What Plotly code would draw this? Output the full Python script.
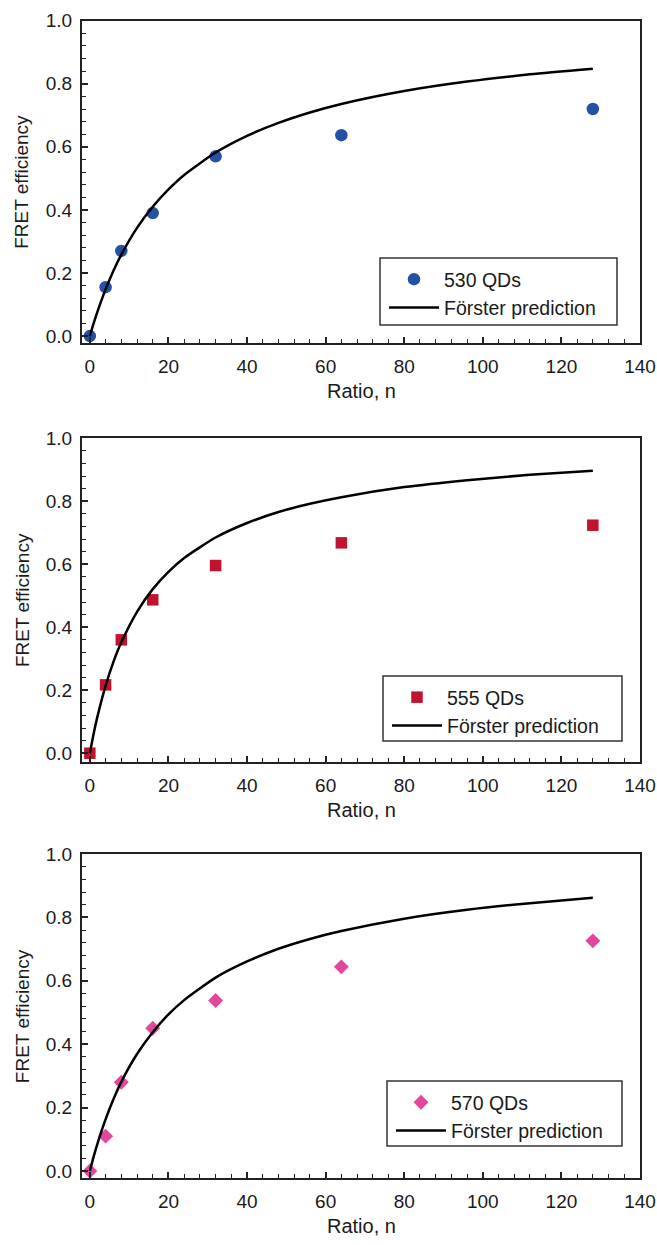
import plotly.graph_objects as go

# ---------------- data ----------------
ratio_n = [0, 4, 8, 16, 32, 64, 128]

eff_530 = [0.0, 0.155, 0.27, 0.39, 0.57, 0.637, 0.72]
eff_555 = [0.0, 0.217, 0.36, 0.487, 0.596, 0.668, 0.724]
eff_570 = [0.0, 0.110, 0.28, 0.45, 0.538, 0.644, 0.726]

curve_n = [0, 1, 2, 4, 6, 8, 12, 16, 20, 24, 32, 40, 48, 56, 64, 80, 96, 112, 128]
forster_530 = [0.0, 0.042, 0.080, 0.148, 0.207, 0.258, 0.343, 0.410, 0.465, 0.511,
               0.582, 0.635, 0.676, 0.709, 0.736, 0.777, 0.807, 0.830, 0.848]
forster_555 = [0.0, 0.064, 0.120, 0.214, 0.290, 0.352, 0.449, 0.521, 0.576, 0.620,
               0.685, 0.731, 0.766, 0.792, 0.813, 0.845, 0.867, 0.884, 0.897]
forster_570 = [0.0, 0.047, 0.089, 0.163, 0.226, 0.281, 0.369, 0.438, 0.494, 0.539,
               0.610, 0.661, 0.701, 0.732, 0.757, 0.796, 0.824, 0.845, 0.862]

series_names = ["530 QDs", "555 QDs", "570 QDs"]
line_name = "Förster prediction"
x_title = "Ratio, n"
y_title = "FRET efficiency"
x_ticks = [0, 20, 40, 60, 80, 100, 120, 140]
y_ticks = [0.0, 0.2, 0.4, 0.6, 0.8, 1.0]
y_tick_labels = ["0.0", "0.2", "0.4", "0.6", "0.8", "1.0"]

# ---------------- layout helpers ----------------
W, H = 657, 1245
FONT = "Liberation Sans, Arial, Helvetica, sans-serif"

def py(px):
    return 1 - px / H

def pxx(px):
    return px / W

panels = [
    dict(top=20.7, bottom=343.0, ymin=-0.022, color="#2451A6", symbol="circle", size=12.5,
         data=eff_530, curve=forster_530, name=series_names[0],
         leg=(380, 258, 617, 325)),
    dict(top=438.3, bottom=761.7, ymin=-0.027, color="#C1132D", symbol="square", size=11.5,
         data=eff_555, curve=forster_555, name=series_names[1],
         leg=(383, 676, 622, 741)),
    dict(top=854.0, bottom=1178.3, ymin=-0.023, color="#E2479C", symbol="diamond", size=11.5,
         data=eff_570, curve=forster_570, name=series_names[2],
         leg=(387, 1081, 622, 1146)),
]

x_left, x_right = 82, 640

fig = go.Figure()
layout = dict(
    template="none",
    width=W, height=H,
    margin=dict(l=0, r=0, t=0, b=0, pad=0),
    paper_bgcolor="white", plot_bgcolor="white",
    font=dict(family=FONT, size=18, color="#1a1a1a"),
    showlegend=True,
)
shapes = []
annotations = []

for i, p in enumerate(panels):
    k = "" if i == 0 else str(i + 1)
    xa = "x" + k
    ya = "y" + k
    leg = "legend" + k
    fig.add_trace(go.Scatter(
        x=ratio_n, y=p["data"], mode="markers", name=p["name"],
        marker=dict(symbol=p["symbol"], size=p["size"], color=p["color"], line=dict(width=0)),
        xaxis=xa, yaxis=ya, legend=leg, cliponaxis=False))
    fig.add_trace(go.Scatter(
        x=curve_n, y=p["curve"], mode="lines", name=line_name,
        line=dict(color="black", width=2.5, shape="spline", smoothing=0.6),
        xaxis=xa, yaxis=ya, legend=leg))

    layout["xaxis" + k] = dict(
        domain=[pxx(x_left), pxx(x_right)], anchor=ya, range=[-2, 140],
        tickvals=x_ticks, ticks="inside", ticklen=6, tickwidth=1.5, tickcolor="#222",
        minor=dict(ticks="inside", ticklen=4, tickwidth=1.2, dtick=4, tick0=0, tickcolor="#222"),
        showline=True, linecolor="#222", linewidth=2, mirror=True,
        showgrid=False, zeroline=False, ticklabelstandoff=5, automargin=False,
        tickfont=dict(size=19, family=FONT, color="#1a1a1a"))
    layout["yaxis" + k] = dict(
        domain=[py(p["bottom"]), py(p["top"])], anchor=xa, range=[p["ymin"], 1.0],
        tickvals=y_ticks, ticktext=y_tick_labels, ticks="inside", ticklen=6, tickwidth=1.5,
        tickcolor="#222",
        minor=dict(ticks="inside", ticklen=4, tickwidth=1.2, dtick=0.04, tick0=0, tickcolor="#222"),
        showline=True, linecolor="#222", linewidth=2, mirror=True,
        showgrid=False, zeroline=False, ticklabelstandoff=4, automargin=False,
        tickfont=dict(size=19, family=FONT, color="#1a1a1a"))

    lx0, ly0, lx1, ly1 = p["leg"]
    shapes.append(dict(type="rect", xref="paper", yref="paper",
                       x0=pxx(lx0), x1=pxx(lx1), y0=py(ly1), y1=py(ly0),
                       line=dict(color="#333", width=1.5), fillcolor="white", layer="below"))
    layout[leg] = dict(x=pxx(lx0 + 4), y=py(ly0 + 2), xanchor="left", yanchor="top",
                       bgcolor="rgba(0,0,0,0)", borderwidth=0, itemwidth=50,
                       font=dict(size=19.5, family=FONT, color="#1a1a1a"),
                       tracegroupgap=0)

    annotations.append(dict(text=y_title, xref="paper", yref="paper",
                            x=pxx(22), y=py((p["top"] + p["bottom"]) / 2),
                            textangle=-90, showarrow=False, xanchor="center", yanchor="middle",
                            font=dict(size=19, family=FONT, color="#1a1a1a")))
    annotations.append(dict(text=x_title, xref="paper", yref="paper",
                            x=pxx((x_left + x_right) / 2), y=py(p["bottom"] + 48),
                            showarrow=False, xanchor="center", yanchor="middle",
                            font=dict(size=20, family=FONT, color="#1a1a1a")))

layout["shapes"] = shapes
layout["annotations"] = annotations
fig.update_layout(**layout)
fig.write_html("out.html")
